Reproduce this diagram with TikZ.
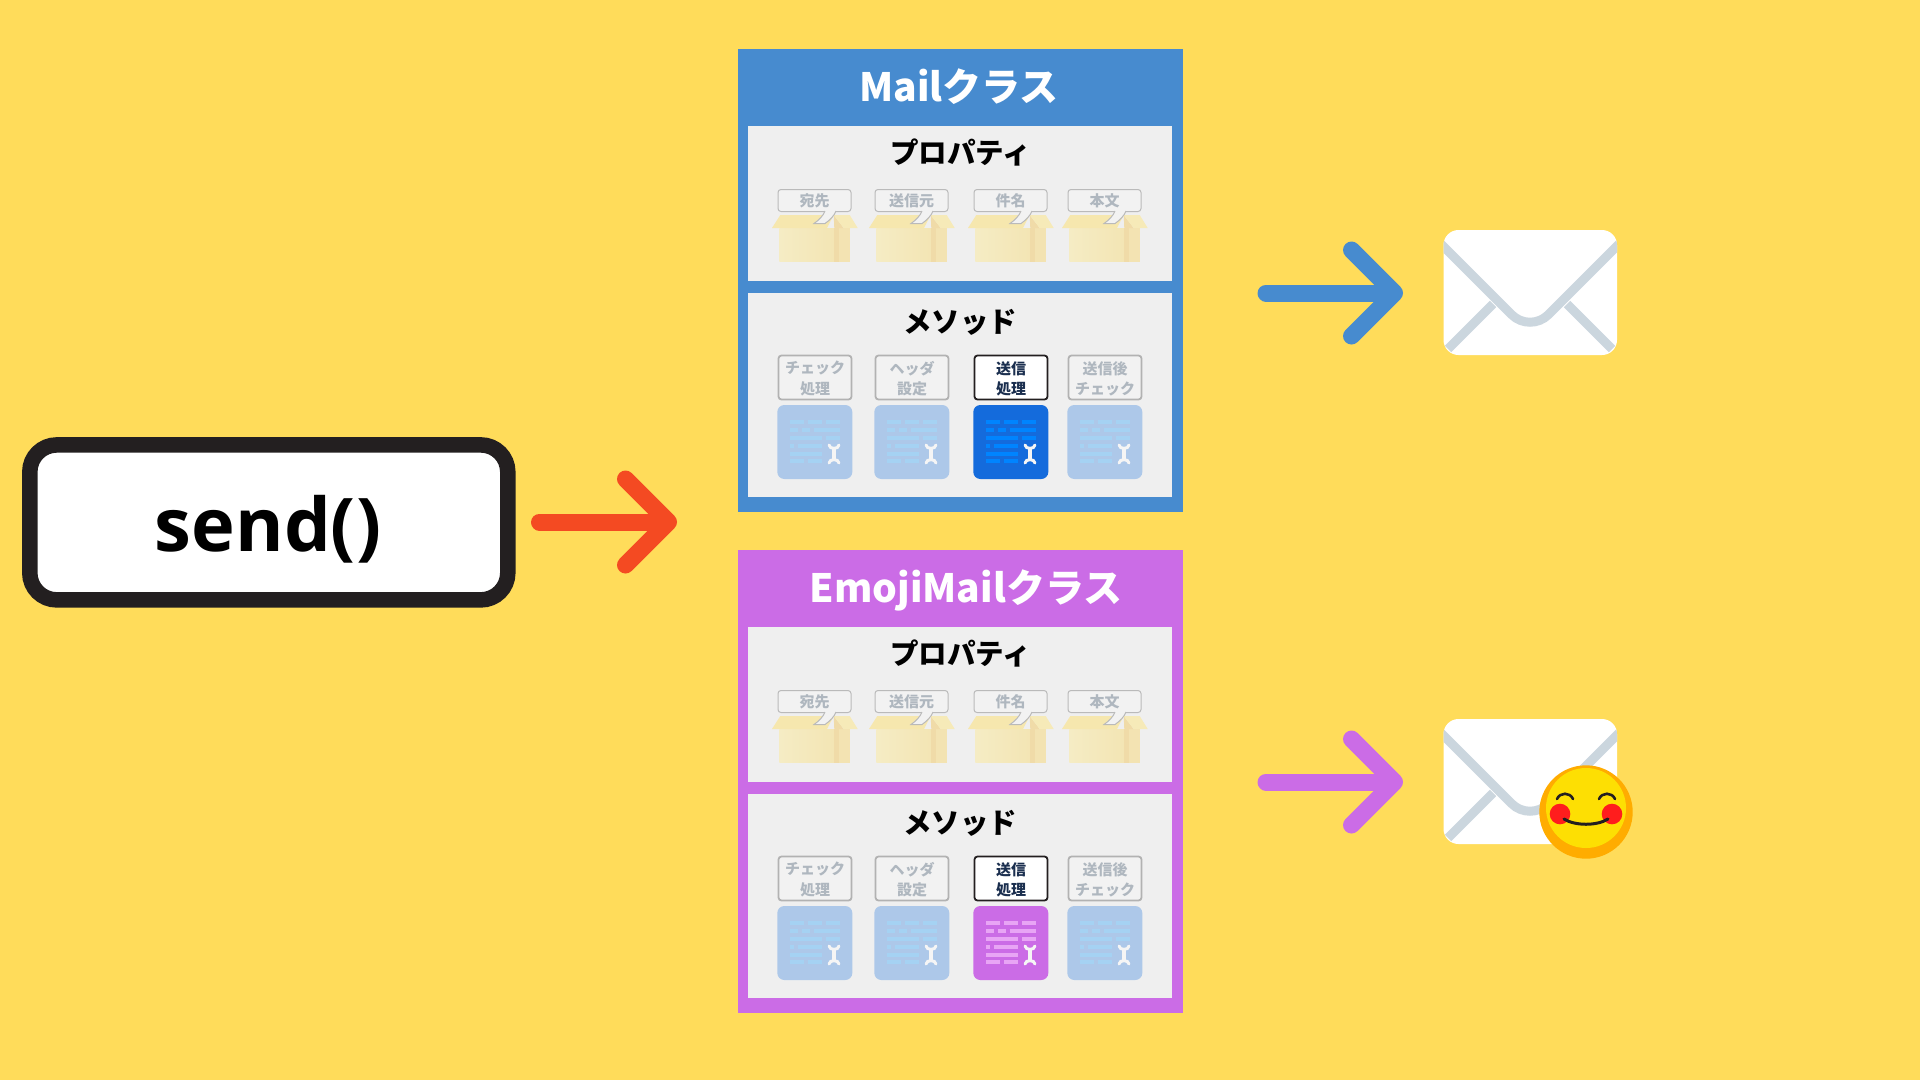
\documentclass[tikz,border=0pt]{standalone}
\usepackage{fontspec}
\setmainfont{Noto Sans CJK JP}
\newfontfamily\sendfont{Open Sans}
\usetikzlibrary{arrows.meta}

\definecolor{bgyellow}{HTML}{FFDC5A}
\definecolor{mailblue}{HTML}{478BCF}
\definecolor{emojipurple}{HTML}{CB6CE6}
\definecolor{sendred}{HTML}{F44A22}
\definecolor{inkdark}{HTML}{231F20}
\definecolor{panelgrey}{HTML}{EFEFEF}
\definecolor{dimtext}{HTML}{AFB7BF}
\definecolor{activetext}{HTML}{1B2F4F}
\definecolor{dimcard}{HTML}{ADC8E9}
\definecolor{dimline}{HTML}{A5D2F3}
\definecolor{activecard}{HTML}{146BDC}
\definecolor{activeline}{HTML}{0084FF}
\definecolor{emojiline}{HTML}{E8A5F5}
\definecolor{envline}{HTML}{CBD6DE}
\definecolor{boxleft}{HTML}{F5ECC4}
\definecolor{boxmid}{HTML}{F3E5B4}
\definecolor{boxfold}{HTML}{F0DBA8}
\definecolor{boxright}{HTML}{F3E3B2}
\definecolor{flapleft}{HTML}{F6E7AE}
\definecolor{flapright}{HTML}{F6EAB8}

\tikzset{
    classframe/.style={minimum width=445pt, minimum height=463pt, inner sep=0pt},
    classpane/.style={fill=panelgrey, minimum width=424.5pt, inner sep=0pt},
    classtitle/.style={anchor=base, text=white, font=\bfseries\fontsize{39}{42}\selectfont, inner sep=0pt},
    panetitle/.style={text=black, font=\bfseries\fontsize{28.5}{31}\selectfont, inner sep=0pt},
    proptag/.style={draw=black!27, line width=1pt, rounded corners=3pt, fill=white!95!black, text=dimtext,
        minimum width=73pt, minimum height=22pt, inner sep=0pt, font=\bfseries\fontsize{15}{18}\selectfont},
    dimtag/.style={draw=black!30, line width=1.8pt, rounded corners=3pt, fill=white!95!black,
        minimum width=73pt, minimum height=44pt, inner sep=0pt},
    activetag/.style={dimtag, draw=inkdark, fill=white},
    dimlabel/.style={text=dimtext, align=center, inner sep=0pt, font=\bfseries\fontsize{15}{20.7}\selectfont},
    activelabel/.style={dimlabel, text=activetext},
    toolcardbody/.style={minimum width=75pt, minimum height=74pt, inner sep=0pt, rounded corners=7pt},
    flowarrow/.style={line width=17pt, line cap=round, line join=round,
        -{Straight Barb[length=43pt, width=86pt, round]}}
}

% cardboard box with its speech bubble: name, left, top, label
\newcommand{\storagebox}[4]{
    \begin{scope}[shift={(#2,#3)}]
        \shade[left color=boxleft, right color=boxmid] (1.3,39) rectangle (56.3,72.7);
        \fill[boxfold] (56.3,39) rectangle (60.7,72.7);
        \fill[boxright] (60.7,39) rectangle (72.3,72.7);
        \fill[flapleft] (2.3,26) -- (-6,39) -- (49,39) -- (55.7,26) -- cycle;
        \fill[boxfold] (55.7,26) -- (65.7,39) -- (56.3,39) -- cycle;
        \fill[flapright] (55.7,26) -- (71.7,26) -- (79.7,39) -- (65.7,39) -- cycle;
        \node[proptag] (#1) at (36.5,11.5) {#4};
        \fill[white!95!black] (47,22) .. controls (45,27) and (41,31) .. (36,34.5) -- (47,34.5) .. controls (52,31) and (56,27) .. (58,22) -- cycle;
        \draw[black!27, line width=1pt] (47,22) .. controls (45,27) and (41,31) .. (36,34.5) -- (47,34.5) .. controls (52,31) and (56,27) .. (58,22);
    \end{scope}
}

% method tag and its document card: name, left, top, label, kind of tag, card colour, line colour
\newcommand{\toolcard}[7]{
    \begin{scope}[shift={(#2,#3)}]
        \node[#5tag] (#1tag) at (37,22.5) {};
        \node[#5label] (#1label) at (37,23.7) {#4};
        \node[toolcardbody, fill=#6] (#1card) at (36.8,87) {};
        \begin{scope}[shift={(0,50)}, #7, line width=3.7pt]
            \draw (12.3,17.3) -- (26.3,17.3) (30.3,17.3) -- (44.3,17.3) (48.3,17.3) -- (62.3,17.3);
            \draw (12.3,25) -- (20.3,25) (24.3,25) -- (31.7,25) (35.7,25) -- (62.3,25);
            \draw (12.3,32.7) -- (44.3,32.7) (48.3,32.7) -- (62.3,32.7);
            \draw (12.3,40.7) -- (16.3,40.7) (20.3,40.7) -- (44.3,40.7);
            \draw (12.3,48.7) -- (44.3,48.7);
            \draw (12.3,56) -- (26.3,56) (30.3,56) -- (44.3,56);
            \draw[white!96!black, line width=3pt, line cap=round] (51,40) .. controls (51.5,44.5) and (60.5,44.5) .. (61,40);
            \draw[white!96!black, line width=3pt, line cap=round] (51,58) .. controls (51.5,53.5) and (60.5,53.5) .. (61,58);
            \draw[white!96!black, line width=3.5pt] (56,43) -- (56,55);
        \end{scope}
    \end{scope}
}

% whole class block: name, y offset, colour, title, title x, active card, active line
\newcommand{\classblock}[7]{
    \begin{scope}[shift={(0,#2)}]
        \node[classframe, fill=#3] (#1frame) at (960.5,280.5) {};
        \node[classtitle] (#1title) at (#5,101) {#4};
        \node[classpane, minimum height=155pt] (#1props) at (959.75,203.5) {};
        \node[classpane, minimum height=204pt] (#1methods) at (959.75,395) {};
        \node[panetitle] (#1propstitle) at (960.5,152.5) {プロパティ};
        \node[panetitle] (#1methodstitle) at (960,322) {メソッド};
        \foreach \cx/\lab [count=\n] in {778/宛先,875/送信元,974/件名,1068/本文}
            \storagebox{#1prop\n}{\cx}{189}{\lab};
        \foreach \cx/\lab/\kind/\cardc/\linec [count=\n] in {
            778/{チェック\\処理}/dim/dimcard/dimline,
            875/{ヘッダ\\設定}/dim/dimcard/dimline,
            974/{送信\\処理}/active/#6/#7,
            1068/{送信後\\チェック}/dim/dimcard/dimline}
            \toolcard{#1meth\n}{\cx}{355}{\lab}{\kind}{\cardc}{\linec};
    \end{scope}
}

% envelope: name, y offset
\newcommand{\envelope}[2]{
    \begin{scope}[shift={(0,#2)}]
        \node[fill=white, rounded corners=15pt, minimum width=173.5pt, minimum height=125pt, inner sep=0pt] (#1) at (1530.25,781.5) {};
        \begin{scope}
            \clip[rounded corners=15pt] (1443.5,719) rectangle (1617,844);
            \draw[envline, line width=9pt] (1448,838) -- (1493,793);
            \draw[envline, line width=9pt] (1612,838) -- (1567,793);
            \draw[envline, line width=9pt, rounded corners=26pt] (1433,725) -- (1530,822) -- (1627,725);
        \end{scope}
    \end{scope}
}

\begin{document}
\begin{tikzpicture}[x=1pt, y=-1pt]
    \useasboundingbox (0,0) rectangle (1920,1080);
    \fill[bgyellow] (0,0) rectangle (1920,1080);

    \node[draw=inkdark, fill=white, line width=15.5pt, rounded corners=27pt, minimum width=478pt, minimum height=155pt, inner sep=0pt] (sendbox) at (268.8,522.4) {};
    \node[anchor=base, inner sep=0pt, font=\sendfont\bfseries\fontsize{74}{80}\selectfont] (sendlabel) at (268,551) {send()};

    \classblock{mail}{0}{mailblue}{Mailクラス}{959}{activecard}{activeline}
    \classblock{emoji}{501}{emojipurple}{EmojiMailクラス}{966}{emojipurple}{emojiline}

    \envelope{mailenv}{-489}
    \envelope{emojienv}{0}

    \coordinate (sendfrom) at (539.5,522);
    \coordinate (sendto) at (677,522);
    \coordinate (mailfrom) at (1266,293);
    \coordinate (mailto) at (1403,293);
    \coordinate (emojifrom) at (1266,782);
    \coordinate (emojito) at (1403,782);
    \draw[flowarrow, sendred] (sendfrom) -- (sendto);
    \draw[flowarrow, mailblue] (mailfrom) -- (mailto);
    \draw[flowarrow, emojipurple] (emojifrom) -- (emojito);

    % smiley on the second envelope
    \fill[orange!65!yellow] (1586,812) circle (46.7);
    \fill[yellow!82!orange] (1586,808) circle (40);
    \fill[red!85!pink] (1560,814) circle (10.3);
    \fill[red!85!pink] (1612,814) circle (10.3);
    \draw[inkdark, line width=2.6pt, line cap=round] (1557,799) .. controls (1560,792) and (1570,792) .. (1573,799);
    \draw[inkdark, line width=2.6pt, line cap=round] (1599,799) .. controls (1602,792) and (1612,792) .. (1615,799);
    \draw[inkdark, line width=3pt, line cap=round] (1564,819) .. controls (1575,826) and (1597,826) .. (1608,819);
\end{tikzpicture}
\end{document}
